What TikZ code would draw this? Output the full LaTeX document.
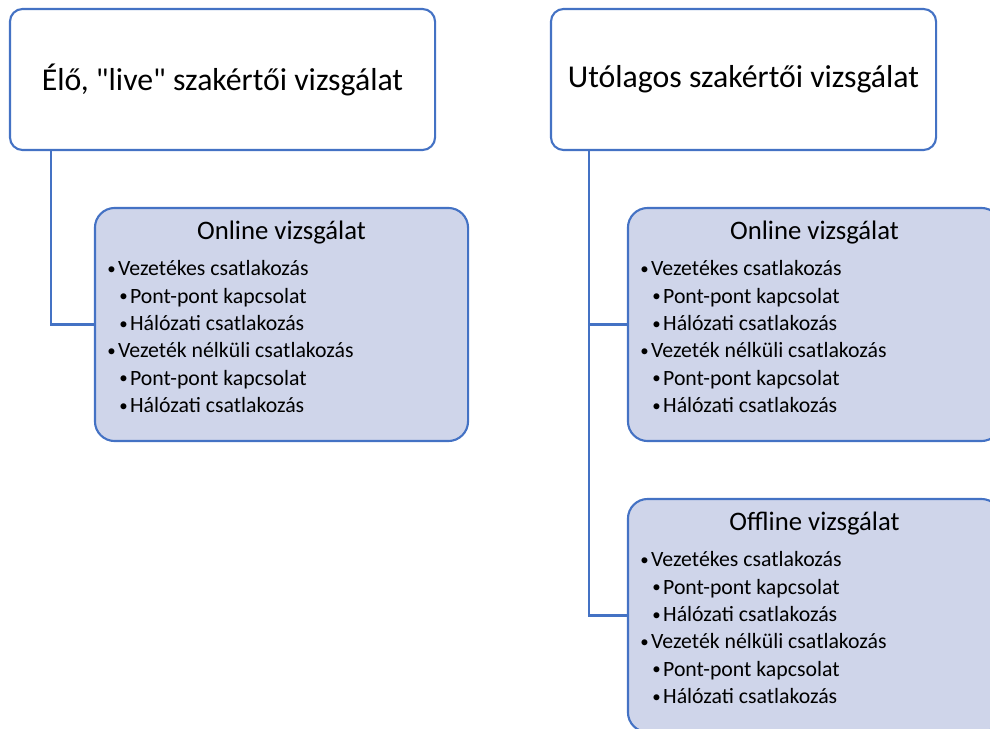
\documentclass[tikz,border=0pt]{standalone}
\usepackage{fontspec}
\setmainfont{Carlito}[Ligatures=TeXOff]
\usetikzlibrary{positioning}
\definecolor{cblue}{HTML}{4472C4}
\definecolor{cfill}{HTML}{CFD5EA}
\tikzset{
  every picture/.style={x=0.025cm, y=-0.025cm, line width=1.5pt},
  topbox/.style={draw=cblue, fill=white, rounded corners=9pt, minimum height=3.525cm, font=\fontsize{22.6}{26}\selectfont},
  subbox/.style={draw=cblue, fill=cfill, rounded corners=14pt, minimum width=9.325cm, minimum height=5.825cm},
  head/.style={font=\fontsize{19}{22}\selectfont, anchor=base},
  item/.style={font=\fontsize{15.5}{18}\selectfont, anchor=base west, inner sep=0pt},
  link/.style={draw=cblue},
}
\newcommand{\blt}{\makebox[0.27cm][l]{\raisebox{0.9pt}{\fontsize{12}{12}\selectfont •}}}
\newcommand{\vizsg}[4]{% name, x, y, header
  \node[subbox] (#1) at (#2,#3) {};
  \node[head] (#1-h) at ([yshift=-0.825cm]#1.north) {#4};
  \foreach \lv/\t [count=\i] in {0/Vezetékes csatlakozás, 1/Pont-pont kapcsolat, 1/Hálózati csatlakozás,
                                  0/Vezeték nélküli csatlakozás, 1/Pont-pont kapcsolat, 1/Hálózati csatlakozás}
    \node[item] (#1-\i) at ([xshift={0.31cm+0.3cm*\lv}, yshift={-1.725cm-0.6825cm*(\i-1)}]#1.north west)
      {\blt\t};
}

\begin{document}
\begin{tikzpicture}
  \useasboundingbox (0,0) rectangle (990,728);
  % left: live
  \node[topbox, minimum width=10.625cm] (elo) at (222.5,79.5) {Élő, "live" szakértői vizsgálat};
  \vizsg{elo-on}{281.5}{324.5}{Online vizsgálat}
  \draw[link] ([xshift=1.05cm]elo.south west) |- (elo-on.west);
  % right: afterwards
  \node[topbox, minimum width=9.625cm] (uto) at (743.5,79.5) {Utólagos szakértői vizsgálat};
  \vizsg{uto-on}{814.5}{324.5}{Online vizsgálat}
  \vizsg{uto-off}{814.5}{615.5}{Offline vizsgálat}
  \draw[link] ([xshift=0.975cm]uto.south west) |- (uto-on.west);
  \draw[link] ([xshift=0.975cm]uto.south west) |- (uto-off.west);
\end{tikzpicture}
\end{document}
